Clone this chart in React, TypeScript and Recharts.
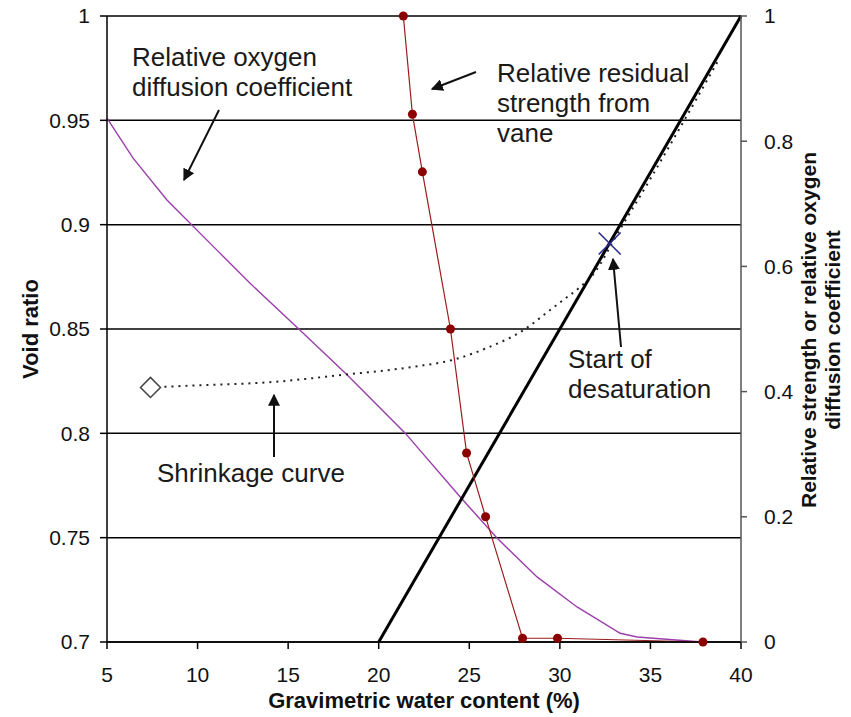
import React from 'react';
import { ComposedChart, Line, XAxis, YAxis, CartesianGrid, ReferenceDot } from 'recharts';

// axes
const waterTicks = [5, 10, 15, 20, 25, 30, 35, 40];
const voidTicks = [0.7, 0.75, 0.8, 0.85, 0.9, 0.95, 1];
const relTicks = [0, 0.2, 0.4, 0.6, 0.8, 1];

// saturation line (void ratio, left axis)
const satWater = [20, 40];
const satVoid = [0.7, 1.0];

// shrinkage curve (void ratio, left axis)
const shrinkWater = [7.4, 10, 14, 18, 22, 24, 26, 28, 29.3, 30.2, 31.1, 32, 33, 35, 37, 38.7];
const shrinkVoid = [0.822, 0.823, 0.8245, 0.828, 0.832, 0.835, 0.841, 0.8495, 0.858, 0.864, 0.87, 0.878, 0.893, 0.922, 0.952, 0.978];

// relative residual strength from vane (right axis)
const strengthWater = [21.36, 21.86, 22.41, 23.96, 24.85, 25.9, 27.94, 29.87, 37.9];
const strengthRel = [1.0, 0.843, 0.751, 0.5, 0.302, 0.2, 0.006, 0.006, 0.0];

// relative oxygen diffusion coefficient (right axis)
const oxygenWater = [5, 6.44, 8.31, 11.07, 12.9, 15.66, 18.25, 21.45, 24.49, 26.53, 28.74, 30.95, 33.33, 34.27, 37.85];
const oxygenRel = [0.837, 0.773, 0.706, 0.626, 0.573, 0.498, 0.427, 0.334, 0.232, 0.166, 0.104, 0.056, 0.014, 0.008, 0.0];

// start of desaturation
const desatWater = 32.75;
const desatVoid = 0.891;

const zip = (xs: number[], ys: number[]) => xs.map((x, i) => ({ x, y: ys[i] }));

const FONT = '"Liberation Sans", Arial, sans-serif';
const tickStyle = { fill: '#111', fontSize: 21, fontFamily: FONT };

const leftTitle = (props: any) => {
  const { x, y, height } = props.viewBox;
  const cx = x + 30;
  const cy = y + height / 2;
  return (
    <text x={cx} y={cy} transform={`rotate(-90 ${cx} ${cy})`} textAnchor="middle" dominantBaseline="central"
      fontSize={22} fontWeight="bold" fontFamily={FONT} fill="#111">
      Void ratio
    </text>
  );
};

const bottomTitle = (props: any) => {
  const { x, y, width } = props.viewBox;
  return (
    <text x={x + width / 2} y={y + 66} textAnchor="middle" fontSize={22} fontWeight="bold" fontFamily={FONT} fill="#111">
      Gravimetric water content (%)
    </text>
  );
};

const diamondDot = (props: any) => {
  const { cx, cy, index } = props;
  if (index !== 0) return <g key={`d-${index}`} />;
  return (
    <path key="diamond" d={`M${cx - 10},${cy} L${cx},${cy - 10} L${cx + 10},${cy} L${cx},${cy + 10} Z`}
      fill="#fff" stroke="#444" strokeWidth={1.5} />
  );
};

const xMark = (props: any) => {
  const { cx, cy } = props;
  return (
    <g stroke="#2a2a8c" strokeWidth={1.6}>
      <line x1={cx - 11} y1={cy - 11} x2={cx + 11} y2={cy + 11} />
      <line x1={cx - 11} y1={cy + 11} x2={cx + 11} y2={cy - 11} />
    </g>
  );
};

const Note = ({ x, y, lines }: { x: number; y: number; lines: string[] }) => (
  <text x={x} y={y} fontSize={26} fontFamily={FONT} fill="#1a1a1a">
    {lines.map((l, i) => (
      <tspan key={i} x={x} dy={i === 0 ? 0 : 30}>{l}</tspan>
    ))}
  </text>
);

const Arrow = ({ x1, y1, x2, y2 }: { x1: number; y1: number; x2: number; y2: number }) => (
  <line x1={x1} y1={y1} x2={x2} y2={y2} stroke="#111" strokeWidth={2} markerEnd="url(#arrowHead)" />
);

const VTitle = ({ x, y, text }: { x: number; y: number; text: string }) => (
  <text x={x} y={y} transform={`rotate(-90 ${x} ${y})`} textAnchor="middle" dominantBaseline="central"
    fontSize={21} fontWeight="bold" fontFamily={FONT} fill="#111">
    {text}
  </text>
);

export default function App() {
  return (
    <div style={{ position: 'relative', width: 851, height: 717, marginLeft: -8, marginTop: -8, background: '#fff' }}>
      <ComposedChart width={851} height={717} margin={{ top: 16, right: 0, bottom: 0, left: 0 }}>
        <CartesianGrid yAxisId="left" vertical={false} stroke="#000" strokeWidth={1.5} />
        <XAxis type="number" dataKey="x" domain={[5, 40]} ticks={waterTicks} allowDuplicatedCategory={false}
          height={75} tick={tickStyle} tickSize={7} tickMargin={18}
          axisLine={{ stroke: '#000', strokeWidth: 1.5 }} tickLine={{ stroke: '#000', strokeWidth: 1.5 }}
          label={bottomTitle} />
        <YAxis yAxisId="left" type="number" domain={[0.7, 1]} ticks={voidTicks} width={107}
          tick={tickStyle} tickSize={7} tickMargin={10}
          axisLine={{ stroke: '#000', strokeWidth: 1.5 }} tickLine={{ stroke: '#000', strokeWidth: 1.5 }}
          label={leftTitle} />
        <YAxis yAxisId="right" orientation="right" type="number" domain={[0, 1]} ticks={relTicks} width={110}
          tick={tickStyle} tickSize={6} tickMargin={17}
          axisLine={{ stroke: '#555', strokeWidth: 1.5 }} tickLine={{ stroke: '#555', strokeWidth: 1.5 }} />

        <Line yAxisId="right" data={zip(oxygenWater, oxygenRel)} dataKey="y" type="linear"
          stroke="#9b3fab" strokeWidth={1.4} dot={false} isAnimationActive={false} />
        <Line yAxisId="left" data={zip(shrinkWater, shrinkVoid)} dataKey="y" type="monotone"
          stroke="#222" strokeWidth={2} strokeDasharray="2 5" dot={diamondDot} isAnimationActive={false} />
        <Line yAxisId="left" data={zip(satWater, satVoid)} dataKey="y" type="linear"
          stroke="#000" strokeWidth={3} dot={false} isAnimationActive={false} />
        <Line yAxisId="right" data={zip(strengthWater, strengthRel)} dataKey="y" type="linear"
          stroke="#9b1c1c" strokeWidth={1.2}
          dot={{ r: 4.5, fill: '#8b0000', stroke: '#8b0000', strokeWidth: 0 }} isAnimationActive={false} />
        <ReferenceDot yAxisId="left" x={desatWater} y={desatVoid} shape={xMark} />
      </ComposedChart>

      <svg width={851} height={717} style={{ position: 'absolute', left: 0, top: 0, pointerEvents: 'none' }}>
        <defs>
          <marker id="arrowHead" viewBox="0 0 10 10" refX="9" refY="5" markerWidth="6" markerHeight="6"
            orient="auto" markerUnits="strokeWidth">
            <path d="M0,0 L10,5 L0,10 Z" fill="#111" />
          </marker>
        </defs>
        <VTitle x={808} y={330} text="Relative strength or relative oxygen" />
        <VTitle x={832} y={330} text="diffusion coefficient" />
        <Note x={132} y={66} lines={['Relative oxygen', 'diffusion coefficient']} />
        <Arrow x1={219} y1={110} x2={184} y2={180} />
        <Note x={497} y={82} lines={['Relative residual', 'strength from', 'vane']} />
        <Arrow x1={476} y1={72} x2={432} y2={89} />
        <Note x={157} y={482} lines={['Shrinkage curve']} />
        <Arrow x1={274} y1={457} x2={274} y2={395} />
        <Note x={568} y={368} lines={['Start of', 'desaturation']} />
        <Arrow x1={621} y1={347} x2={613} y2={259} />
      </svg>
    </div>
  );
}
